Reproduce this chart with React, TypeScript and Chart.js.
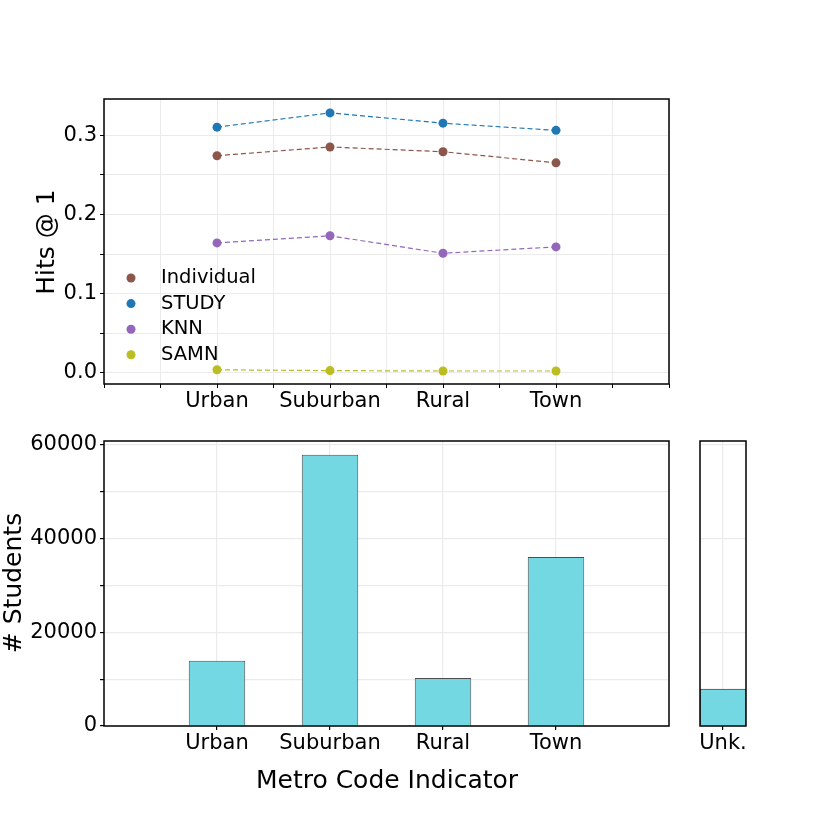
import React, { useEffect, useRef } from 'react';
import { Chart, registerables } from 'chart.js';
Chart.register(...registerables);

const categories = ['Urban', 'Suburban', 'Rural', 'Town'];
const seriesNames = ['Individual', 'STUDY', 'KNN', 'SAMN'];
const individual = [0.274, 0.285, 0.279, 0.265];
const study = [0.310, 0.328, 0.315, 0.306];
const knn = [0.164, 0.173, 0.151, 0.159];
const samn = [0.004, 0.003, 0.0025, 0.0025];
const students = [13900, 57850, 10250, 36050];
const unkLabels = ['Unk.'];
const unkStudents = [7900];
const hitsTicks = [0, 0.05, 0.1, 0.15, 0.2, 0.25, 0.3];
const hitsTopX = [-1, -0.5, 0, 0.5, 1, 1.5, 2, 2.5, 3, 3.5, 4];
const studentTicks = [0, 10000, 20000, 30000, 40000, 50000, 60000];
const unkTicks = [0, 20000, 40000, 60000];

const FONT = 'DejaVu Sans';
const GRID = '#ebebeb';
const seriesColors = ['#8c564b', '#1f77b4', '#9467bd', '#bcbd22'];
const seriesValues = [individual, study, knn, samn];

const framePlugin = {
  id: 'frame',
  afterDraw(chart: any) {
    const { ctx, chartArea: a } = chart;
    ctx.save();
    ctx.strokeStyle = '#000';
    ctx.lineWidth = 1.5;
    ctx.strokeRect(a.left, a.top, a.right - a.left, a.bottom - a.top);
    ctx.restore();
  },
};

function textPlugin(items: { text: string; x: number; y: number; rot?: boolean; size: number }[]) {
  return {
    id: 'texts',
    afterDraw(chart: any) {
      const ctx = chart.ctx;
      items.forEach((it) => {
        ctx.save();
        ctx.fillStyle = '#000';
        ctx.font = `${it.size}px "${FONT}"`;
        ctx.textAlign = 'center';
        ctx.textBaseline = 'middle';
        ctx.translate(it.x, it.y);
        if (it.rot) ctx.rotate(-Math.PI / 2);
        ctx.fillText(it.text, 0, 0);
        ctx.restore();
      });
    },
  };
}

const legendPlugin = {
  id: 'innerLegend',
  afterDatasetsDraw(chart: any) {
    const ctx = chart.ctx;
    chart.data.datasets.forEach((ds: any, i: number) => {
      const y = 278 + i * 25.6;
      ctx.save();
      ctx.fillStyle = ds.borderColor;
      ctx.beginPath();
      ctx.arc(131, y, 4.5, 0, Math.PI * 2);
      ctx.fill();
      ctx.fillStyle = '#000';
      ctx.font = `19.5px "${FONT}"`;
      ctx.textAlign = 'left';
      ctx.textBaseline = 'middle';
      ctx.fillText(ds.label, 161, y);
      ctx.restore();
    });
  },
};

function useChart(ref: React.RefObject<HTMLCanvasElement>, makeConfig: () => any) {
  useEffect(() => {
    if (!ref.current) return;
    const chart = new Chart(ref.current, makeConfig());
    return () => chart.destroy();
  }, []);
}

const tickFont = { family: FONT, size: 21 };

export default function App() {
  const topRef = useRef<HTMLCanvasElement>(null);
  const botRef = useRef<HTMLCanvasElement>(null);
  const unkRef = useRef<HTMLCanvasElement>(null);

  useChart(topRef, () => ({
    type: 'line',
    data: {
      datasets: seriesNames.map((name, k) => ({
        label: name,
        data: seriesValues[k].map((v, i) => ({ x: i, y: v })),
        borderColor: seriesColors[k],
        backgroundColor: seriesColors[k],
        pointBackgroundColor: seriesColors[k],
        pointBorderWidth: 0,
        pointRadius: 4.5,
        borderWidth: 1.2,
        borderDash: [5, 3],
        fill: false,
        tension: 0,
      })),
    },
    options: {
      responsive: false,
      animation: false,
      layout: { padding: { left: 0, top: 99, right: 161, bottom: 0 } },
      plugins: { legend: { display: false }, tooltip: { enabled: false } },
      scales: {
        x: {
          type: 'linear',
          min: -1,
          max: 4,
          afterBuildTicks: (s: any) => { s.ticks = hitsTopX.map((v) => ({ value: v })); },
          afterFit: (s: any) => { s.height = 36; s.paddingLeft = 0; s.paddingRight = 0; },
          ticks: {
            autoSkip: false, maxRotation: 0, color: '#000', font: tickFont, padding: 1,
            callback: (v: number) => (Number.isInteger(v) && v >= 0 && v < categories.length ? categories[v] : ''),
          },
          grid: { color: GRID, tickColor: '#000', tickLength: 4, lineWidth: 1 },
          border: { display: false },
        },
        y: {
          min: -0.0139,
          max: 0.3455,
          afterBuildTicks: (s: any) => { s.ticks = hitsTicks.map((v) => ({ value: v })); },
          afterFit: (s: any) => { s.width = 104; s.paddingTop = 0; s.paddingBottom = 0; },
          ticks: {
            color: '#000', font: tickFont, padding: 3,
            callback: (v: number) => (Math.round(v * 100) % 10 === 0 ? v.toFixed(1) : ''),
          },
          grid: { color: GRID, tickColor: '#000', tickLength: 4, lineWidth: 1 },
          border: { display: false },
        },
      },
    },
    plugins: [framePlugin, legendPlugin, textPlugin([{ text: 'Hits @ 1', x: 47, y: 242, rot: true, size: 25 }])],
  }));

  useChart(botRef, () => ({
    type: 'bar',
    data: {
      datasets: [{
        data: students.map((v, i) => ({ x: i, y: v })),
        backgroundColor: '#74d8e2',
        borderColor: '#4d4d4d',
        borderWidth: 1,
        barPercentage: 0.5,
        categoryPercentage: 1,
      }],
    },
    options: {
      responsive: false,
      animation: false,
      layout: { padding: { left: 0, top: 21, right: 161, bottom: 0 } },
      plugins: { legend: { display: false }, tooltip: { enabled: false } },
      scales: {
        x: {
          type: 'linear',
          min: -1,
          max: 4,
          z: 1,
          offset: false,
          afterBuildTicks: (s: any) => { s.ticks = categories.map((_, i) => ({ value: i })); },
          afterFit: (s: any) => { s.height = 104; s.paddingLeft = 0; s.paddingRight = 0; },
          ticks: {
            autoSkip: false, maxRotation: 0, color: '#000', font: tickFont, padding: 1,
            callback: (v: number) => categories[v] ?? '',
          },
          grid: { offset: false, color: GRID, tickColor: '#000', tickLength: 4, lineWidth: 1.2 },
          border: { display: false },
        },
        y: {
          min: 0,
          max: 60800,
          z: 1,
          afterBuildTicks: (s: any) => { s.ticks = studentTicks.map((v) => ({ value: v })); },
          afterFit: (s: any) => { s.width = 104; s.paddingTop = 0; s.paddingBottom = 0; },
          ticks: {
            color: '#000', font: tickFont, padding: 3,
            callback: (v: number) => (v % 20000 === 0 ? String(v) : ''),
          },
          grid: { color: GRID, tickColor: '#000', tickLength: 4, lineWidth: 1.2 },
          border: { display: false },
        },
      },
    },
    plugins: [framePlugin, textPlugin([
      { text: '# Students', x: 14, y: 163, rot: true, size: 25 },
      { text: 'Metro Code Indicator', x: 387, y: 361, size: 25 },
    ])],
  }));

  useChart(unkRef, () => ({
    type: 'bar',
    data: {
      labels: unkLabels,
      datasets: [{
        data: unkStudents,
        backgroundColor: '#74d8e2',
        borderColor: '#4d4d4d',
        borderWidth: 1,
        barPercentage: 1,
        categoryPercentage: 1,
      }],
    },
    options: {
      responsive: false,
      animation: false,
      layout: { padding: { left: 20, top: 21, right: 54, bottom: 0 } },
      plugins: { legend: { display: false }, tooltip: { enabled: false } },
      scales: {
        x: {
          z: 1,
          offset: true,
          afterFit: (s: any) => { s.height = 104; s.paddingLeft = 0; s.paddingRight = 0; },
          ticks: { autoSkip: false, maxRotation: 0, color: '#000', font: tickFont, padding: 1 },
          grid: { offset: false, color: GRID, tickColor: '#000', tickLength: 4, lineWidth: 1.2 },
          border: { display: false },
        },
        y: {
          min: 0,
          max: 60800,
          z: 1,
          afterBuildTicks: (s: any) => { s.ticks = unkTicks.map((v) => ({ value: v })); },
          afterFit: (s: any) => { s.width = 0; s.paddingTop = 0; s.paddingBottom = 0; },
          ticks: { display: false },
          grid: { color: GRID, drawTicks: false, lineWidth: 1.2 },
          border: { display: false },
        },
      },
    },
    plugins: [framePlugin],
  }));

  return (
    <div style={{ position: 'fixed', left: 0, top: 0, width: 830, height: 830, background: '#fff' }}>
      <canvas ref={topRef} width={830} height={420} style={{ position: 'absolute', left: 0, top: 0 }} />
      <canvas ref={botRef} width={830} height={410} style={{ position: 'absolute', left: 0, top: 420 }} />
      <canvas ref={unkRef} width={120} height={410} style={{ position: 'absolute', left: 680, top: 420 }} />
    </div>
  );
}
